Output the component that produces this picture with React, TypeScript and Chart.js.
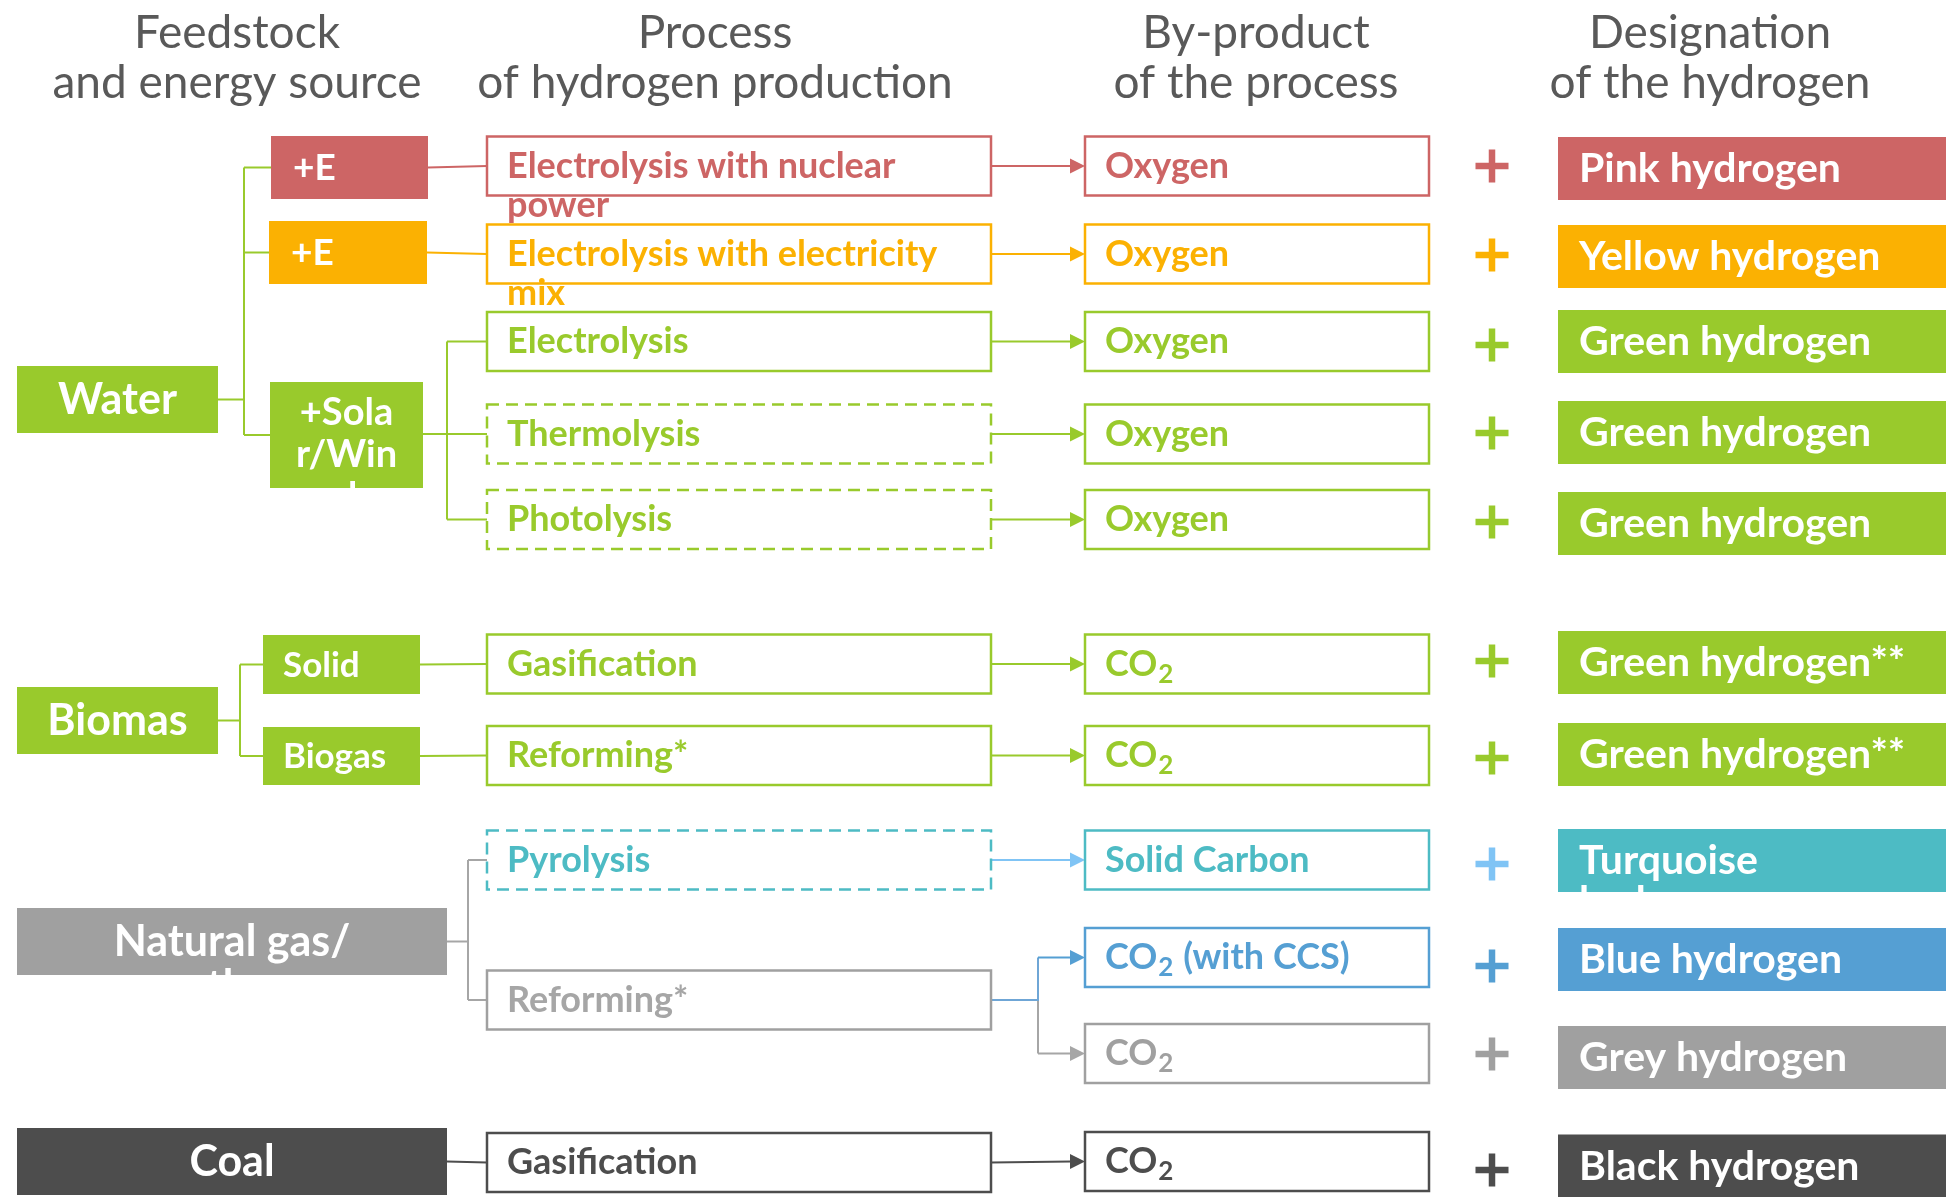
import React, { useEffect, useRef } from "react";
import { Chart, registerables } from "chart.js";

Chart.register(...registerables);

// ---------------- DATA ----------------
const headerTitles = ["Feedstock", "Process", "By-product", "Designation"];
const headerSubtitles = ["and energy source", "of hydrogen production", "of the process", "of the hydrogen"];

const feedstocks = ["Water", "Biomas", "Natural gas/\nmethane", "Coal"];
const energySources = ["+E", "+E", "+Sola\nr/Win\nd", "Solid", "Biogas"];

const processes = [
  "Electrolysis with nuclear\npower",
  "Electrolysis with electricity\nmix",
  "Electrolysis",
  "Thermolysis",
  "Photolysis",
  "Gasification",
  "Reforming*",
  "Pyrolysis",
  "Reforming*",
  "Gasification",
];
const processDashed = [false, false, false, true, true, false, false, true, false, false];

const byproducts = [
  "Oxygen",
  "Oxygen",
  "Oxygen",
  "Oxygen",
  "Oxygen",
  "CO₂",
  "CO₂",
  "Solid Carbon",
  "CO₂ (with CCS)",
  "CO₂",
  "CO₂",
];

const designations = [
  "Pink hydrogen",
  "Yellow hydrogen",
  "Green hydrogen",
  "Green hydrogen",
  "Green hydrogen",
  "Green hydrogen**",
  "Green hydrogen**",
  "Turquoise\nhydrogen",
  "Blue hydrogen",
  "Grey hydrogen",
  "Black hydrogen",
];

// ---------------- STYLE ----------------
const palette: Record<string, string> = {
  pink: "#CD6565",
  yellow: "#FBB102",
  green: "#99CA2C",
  teal: "#4DBBC4",
  lightBlue: "#80C4F5",
  blue: "#559FD3",
  grey: "#A0A0A0",
  dark: "#4D4D4D",
  header: "#595959",
};
const feedColors = ["green", "green", "grey", "dark"];
const energyColors = ["pink", "yellow", "green", "green", "green"];
const processColors = ["pink", "yellow", "green", "green", "green", "green", "green", "teal", "grey", "dark"];
const byproductColors = ["pink", "yellow", "green", "green", "green", "green", "green", "teal", "blue", "grey", "dark"];
const plusColors = ["pink", "yellow", "green", "green", "green", "green", "green", "lightBlue", "blue", "grey", "dark"];
const designColors = ["pink", "yellow", "green", "green", "green", "green", "green", "teal", "blue", "grey", "dark"];
const arrowColors = ["pink", "yellow", "green", "green", "green", "green", "green", "lightBlue", "", "dark"];

const FONT = 'Lato, "Open Sans", "DejaVu Sans", sans-serif';
const W = 1946;
const H = 1197;

// ---------------- LAYOUT ----------------
const LAYOUT = {
  header: { x: [237, 715, 1256, 1710], y: [48, 98], size: 46 },
  feed: {
    rects: [
      [17, 366, 218, 433],
      [17, 687, 218, 754],
      [17, 908, 447, 975],
      [17, 1128, 447, 1195],
    ],
    size: 43,
    lh: 45,
  },
  energy: {
    rects: [
      [271, 136, 428, 199],
      [269, 221, 427, 284],
      [270, 382, 423, 488],
      [263, 635, 420, 694],
      [263, 727, 420, 785],
    ],
    size: [37, 37, 38, 35, 35],
    align: ["left", "left", "center", "left", "left"],
    inset: [22, 22, 0, 20, 20],
    firstDy: [12, 12, -10, 12, 12],
    lh: 42,
  },
  proc: { x0: 487, x1: 991, h: 59, y: [166, 254, 341.5, 434, 519.5, 664, 755.5, 860, 1000, 1162.5], inset: 20, size: 36, lh: 39 },
  byp: { x0: 1085, x1: 1429, h: 59, y: [166, 254, 341.5, 434, 519.5, 664, 755.5, 860, 957.5, 1053.5, 1161.5], inset: 20 },
  plus: { x: 1492, y: [166, 255, 345, 433, 522, 661, 758, 864, 966, 1054, 1170], len: 33, thick: 6.5 },
  design: { x0: 1558, x1: 1946, h: 63, y: [168.5, 256.5, 341.5, 432.5, 523.5, 662.5, 754.5, 860.5, 959.5, 1057.5, 1166], inset: 21, size: 41, lh: 41 },
  trunks: { water: 244, solar: 447, biomass: 240, gas: 468, reform: 1038 },
};

// ---------------- DRAWING PLUGIN ----------------
const diagramPlugin = {
  id: "hydrogenDiagram",
  afterDraw(chart: any) {
    const ctx: CanvasRenderingContext2D = chart.ctx;
    const xs = chart.scales.x;
    const ys = chart.scales.y;
    const X = (v: number) => xs.getPixelForValue(v);
    const Y = (v: number) => ys.getPixelForValue(v);
    const col = (k: string) => palette[k];

    const line = (pts: number[][], color: string, width = 2) => {
      ctx.save();
      ctx.strokeStyle = color;
      ctx.lineWidth = width;
      ctx.setLineDash([]);
      ctx.beginPath();
      pts.forEach((p, i) => (i === 0 ? ctx.moveTo(X(p[0]), Y(p[1])) : ctx.lineTo(X(p[0]), Y(p[1]))));
      ctx.stroke();
      ctx.restore();
    };
    const fillRect = (x0: number, y0: number, x1: number, y1: number, color: string) => {
      ctx.save();
      ctx.fillStyle = color;
      ctx.fillRect(X(x0), Y(y0), X(x1) - X(x0), Y(y1) - Y(y0));
      ctx.restore();
    };
    const strokeRect = (x0: number, y0: number, x1: number, y1: number, color: string, dashed = false) => {
      ctx.save();
      ctx.fillStyle = "#ffffff";
      ctx.fillRect(X(x0), Y(y0), X(x1) - X(x0), Y(y1) - Y(y0));
      ctx.strokeStyle = color;
      ctx.lineWidth = 2.5;
      ctx.setLineDash(dashed ? [12, 7] : []);
      ctx.strokeRect(X(x0), Y(y0), X(x1) - X(x0), Y(y1) - Y(y0));
      ctx.restore();
    };
    const arrow = (x0: number, y0: number, x1: number, y1: number, color: string) => {
      const hl = 15;
      const hw = 7.5;
      line([[x0, y0], [x1 - hl + 1, y1]], color, 2);
      ctx.save();
      ctx.fillStyle = color;
      ctx.beginPath();
      ctx.moveTo(X(x1), Y(y1));
      ctx.lineTo(X(x1 - hl), Y(y1 - hw));
      ctx.lineTo(X(x1 - hl), Y(y1 + hw));
      ctx.closePath();
      ctx.fill();
      ctx.restore();
    };
    const plus = (cx: number, cy: number, color: string) => {
      const { len, thick } = LAYOUT.plus;
      ctx.save();
      ctx.fillStyle = color;
      ctx.fillRect(X(cx - len / 2), Y(cy - thick / 2), len, thick);
      ctx.fillRect(X(cx - thick / 2), Y(cy - len / 2), thick, len);
      ctx.restore();
    };
    // text with manual subscript for "₂"
    const richWidth = (s: string, size: number, weight: string) => {
      const parts = s.split("₂");
      let w = 0;
      parts.forEach((p, i) => {
        ctx.font = `${weight} ${size}px ${FONT}`;
        w += ctx.measureText(p).width;
        if (i < parts.length - 1) {
          ctx.font = `${weight} ${Math.round(size * 0.72)}px ${FONT}`;
          w += ctx.measureText("2").width;
        }
      });
      return w;
    };
    const richText = (s: string, x: number, y: number, size: number, weight: string, color: string, align: string) => {
      ctx.save();
      ctx.fillStyle = color;
      ctx.textBaseline = "alphabetic";
      ctx.textAlign = "left";
      let cx = X(x);
      if (align === "center") cx -= richWidth(s, size, weight) / 2;
      const parts = s.split("₂");
      parts.forEach((p, i) => {
        ctx.font = `${weight} ${size}px ${FONT}`;
        ctx.fillText(p, cx, Y(y));
        cx += ctx.measureText(p).width;
        if (i < parts.length - 1) {
          const ss = Math.round(size * 0.72);
          ctx.font = `${weight} ${ss}px ${FONT}`;
          ctx.fillText("2", cx + 1, Y(y + size * 0.2));
          cx += ctx.measureText("2").width + 2;
        }
      });
      ctx.restore();
    };
    const multiText = (label: string, x: number, y: number, size: number, lh: number, weight: string, color: string, align: string, clip?: number[]) => {
      ctx.save();
      if (clip) {
        ctx.beginPath();
        ctx.rect(X(clip[0]), Y(clip[1]), X(clip[2]) - X(clip[0]), Y(clip[3]) - Y(clip[1]));
        ctx.clip();
      }
      label.split("\n").forEach((ln, i) => richText(ln, x, y + i * lh, size, weight, color, align));
      ctx.restore();
    };

    ctx.save();
    ctx.fillStyle = "#ffffff";
    ctx.fillRect(0, 0, chart.width, chart.height);
    ctx.restore();

    // ---- headers ----
    const hd = LAYOUT.header;
    headerTitles.forEach((t, i) => {
      richText(t, hd.x[i], hd.y[0], hd.size, "400", palette.header, "center");
      richText(headerSubtitles[i], hd.x[i], hd.y[1], hd.size, "400", palette.header, "center");
    });

    const fr = LAYOUT.feed.rects;
    const er = LAYOUT.energy.rects;
    const P = LAYOUT.proc;
    const B = LAYOUT.byp;
    const T = LAYOUT.trunks;
    const cy = (r: number[]) => (r[1] + r[3]) / 2;

    // ---- connectors ----
    const g = palette.green;
    // water tree
    line([[fr[0][2], cy(fr[0])], [T.water, cy(fr[0])]], g);
    line([[T.water, cy(er[0])], [T.water, cy(er[2])]], g);
    [0, 1, 2].forEach((i) => line([[T.water, cy(er[i])], [er[i][0], cy(er[i])]], g));
    line([[er[0][2], cy(er[0])], [P.x0, P.y[0]]], palette.pink);
    line([[er[1][2], cy(er[1])], [P.x0, P.y[1]]], palette.yellow);
    // solar tree
    line([[er[2][2], P.y[3]], [P.x0, P.y[3]]], g);
    line([[T.solar, P.y[2]], [T.solar, P.y[4]]], g);
    [2, 4].forEach((i) => line([[T.solar, P.y[i]], [P.x0, P.y[i]]], g));
    // biomass tree
    line([[fr[1][2], cy(fr[1])], [T.biomass, cy(fr[1])]], g);
    line([[T.biomass, cy(er[3])], [T.biomass, cy(er[4])]], g);
    [3, 4].forEach((i) => line([[T.biomass, cy(er[i])], [er[i][0], cy(er[i])]], g));
    line([[er[3][2], cy(er[3])], [P.x0, P.y[5]]], g);
    line([[er[4][2], cy(er[4])], [P.x0, P.y[6]]], g);
    // natural gas tree
    const gr = "#A6A6A6";
    line([[fr[2][2], cy(fr[2])], [T.gas, cy(fr[2])]], gr);
    line([[T.gas, P.y[7]], [T.gas, P.y[8]]], gr);
    [7, 8].forEach((i) => line([[T.gas, P.y[i]], [P.x0, P.y[i]]], gr));
    // coal
    line([[fr[3][2], cy(fr[3])], [P.x0, P.y[9]]], palette.dark);

    // process -> byproduct arrows
    const procToByp = [0, 1, 2, 3, 4, 5, 6, 7, -1, 10];
    procToByp.forEach((b, i) => {
      if (b < 0) return;
      arrow(P.x1, P.y[i], B.x0, B.y[b], palette[arrowColors[i]]);
    });
    // reforming split (blue / grey)
    line([[T.reform, P.y[8]], [T.reform, B.y[9]]], gr);
    arrow(T.reform, B.y[9], B.x0, B.y[9], gr);
    line([[P.x1, P.y[8]], [T.reform, P.y[8]], [T.reform, B.y[8]]], "#6FA6D6");
    arrow(T.reform, B.y[8], B.x0, B.y[8], palette.blue);

    // ---- feedstock boxes ----
    feedstocks.forEach((f, i) => {
      const r = fr[i];
      fillRect(r[0], r[1], r[2], r[3], col(feedColors[i]));
      const s = LAYOUT.feed.size;
      multiText(f, (r[0] + r[2]) / 2, cy(r) + s * 0.33, s, LAYOUT.feed.lh, "700", "#ffffff", "center", r);
    });

    // ---- energy source boxes ----
    energySources.forEach((e, i) => {
      const r = er[i];
      fillRect(r[0], r[1], r[2], r[3], col(energyColors[i]));
      const E = LAYOUT.energy;
      const x = E.align[i] === "center" ? (r[0] + r[2]) / 2 : r[0] + E.inset[i];
      multiText(e, x, cy(r) + E.firstDy[i], E.size[i], E.lh, "700", "#ffffff", E.align[i], r);
    });

    // ---- process boxes ----
    processes.forEach((p, i) => {
      const c = col(processColors[i]);
      const y0 = P.y[i] - P.h / 2;
      strokeRect(P.x0, y0, P.x1, y0 + P.h, c, processDashed[i]);
    });
    processes.forEach((p, i) => {
      const c = processColors[i] === "grey" ? "#A6A6A6" : col(processColors[i]);
      multiText(p, P.x0 + P.inset, P.y[i] + P.size * 0.32, P.size, P.lh, "700", c, "left");
    });

    // ---- by-product boxes ----
    byproducts.forEach((b, i) => {
      const c = col(byproductColors[i]);
      const y0 = B.y[i] - P.h / 2;
      strokeRect(B.x0, y0, B.x1, y0 + B.h, c, false);
      multiText(b, B.x0 + B.inset, B.y[i] + P.size * 0.32, P.size, P.lh, "700", c, "left");
    });

    // ---- plus signs ----
    LAYOUT.plus.y.forEach((y, i) => plus(LAYOUT.plus.x, y, col(plusColors[i])));

    // ---- designation boxes ----
    const D = LAYOUT.design;
    designations.forEach((d, i) => {
      const y0 = D.y[i] - D.h / 2;
      const r = [D.x0, y0, D.x1, y0 + D.h];
      fillRect(r[0], r[1], r[2], r[3], col(designColors[i]));
      multiText(d, D.x0 + D.inset, D.y[i] + D.size * 0.34, D.size, D.lh, "700", "#ffffff", "left", r);
    });
  },
};

export default function App() {
  const ref = useRef<HTMLCanvasElement>(null);
  useEffect(() => {
    const canvas = ref.current;
    if (!canvas) return;
    const chart = new Chart(canvas, {
      type: "scatter",
      data: { datasets: [{ data: [], pointRadius: 0 }] },
      options: {
        responsive: false,
        maintainAspectRatio: false,
        animation: false,
        devicePixelRatio: 1,
        layout: { padding: 0 },
        events: [],
        plugins: { legend: { display: false }, tooltip: { enabled: false } },
        scales: {
          x: { type: "linear", min: 0, max: W, display: false },
          y: { type: "linear", min: 0, max: H, reverse: true, display: false },
        },
      },
      plugins: [diagramPlugin],
    } as any);
    return () => chart.destroy();
  }, []);
  return (
    <div style={{ position: "fixed", left: 0, top: 0, width: W, height: H, background: "#ffffff", overflow: "hidden" }}>
      <canvas ref={ref} width={W} height={H} style={{ width: W, height: H, display: "block" }} />
    </div>
  );
}
